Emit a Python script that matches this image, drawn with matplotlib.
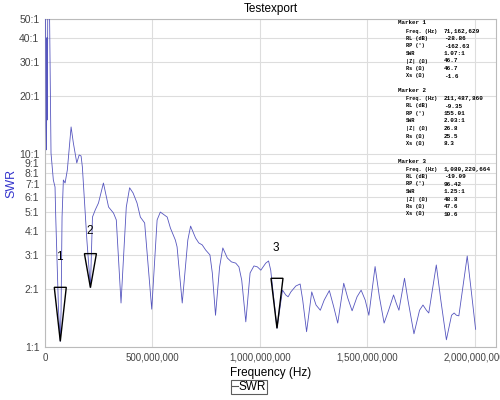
import matplotlib
matplotlib.use("Agg")
import matplotlib.pyplot as plt
from matplotlib.patches import Polygon
from matplotlib.lines import Line2D
from matplotlib import transforms
import numpy as np

# ---- data (frequency in MHz, SWR) ----
freq_mhz = [2, 5, 7, 9, 11, 13, 20, 28, 38.8, 46.7, 50, 56, 63, 71.16, 74.8, 79.4, 85.5,
            93.5, 104, 121.5, 132, 148, 159, 168, 174, 195, 211.49, 221, 234, 249, 272,
            296, 319, 332, 354, 378.5, 394, 410, 428.5, 444, 464, 497, 522, 537, 569,
            584, 607, 615, 639, 665, 678, 701, 716, 732, 748, 768, 779, 794, 813, 828,
            849, 868, 888, 903, 916, 935, 955, 973, 989, 1005, 1028, 1041, 1051, 1080.22,
            1106, 1121, 1132, 1145, 1168, 1188, 1200, 1218, 1242, 1262, 1282, 1300, 1324,
            1344, 1363, 1391, 1410, 1430, 1453, 1472, 1491, 1508, 1537, 1557, 1579, 1600,
            1623, 1636, 1648, 1674, 1690, 1718, 1744, 1760, 1776, 1787, 1822, 1843, 1869,
            1893, 1905, 1916, 1927, 1966, 1986, 2005]
swr = [70, 14, 10.5, 40, 15, 70, 70, 10.1, 7.33, 6.74, 4.71, 2.82, 1.55, 1.07, 1.55, 4.71,
       7.33, 7.07, 8.26, 13.8, 11.4, 8.98, 9.88, 9.76, 8.56, 3.58, 2.03, 4.71, 5.13, 5.57,
       7.07, 5.31, 4.94, 4.55, 1.69, 5.31, 6.68, 6.28, 5.57, 4.71, 4.39, 1.57, 4.55, 5.0,
       4.71, 4.13, 3.58, 3.30, 1.69, 3.58, 4.23, 3.67, 3.46, 3.38, 3.18, 3.0, 2.42, 1.46,
       2.6, 3.26, 2.89, 2.76, 2.72, 2.6, 2.22, 1.35, 2.42, 2.63, 2.6, 2.5, 2.72, 2.79, 2.5,
       1.25, 1.97, 1.86, 1.82, 1.93, 2.07, 2.12, 1.75, 1.2, 1.93, 1.65, 1.55, 1.75, 1.96,
       1.62, 1.33, 2.14, 1.79, 1.54, 1.82, 1.97, 1.75, 1.46, 2.61, 1.82, 1.33, 1.55, 1.86,
       1.68, 1.55, 2.27, 1.75, 1.17, 1.55, 1.65, 1.55, 1.5, 2.66, 1.75, 1.09, 1.46, 1.5,
       1.46, 1.45, 2.96, 1.9, 1.235]

marker_names = ["1", "2", "3"]
marker_freq_hz = [71162629, 211487860, 1080220664]
marker_swr = [1.07, 2.03, 1.25]

y_ticks = [1, 2, 3, 4, 5, 6, 7, 8, 9, 10, 20, 30, 40, 50]
x_ticks = [0, 500000000, 1000000000, 1500000000, 2000000000]

marker_labels = ["Freq. (Hz)", "RL (dB)", "RP (°)", "SWR", "|Z| (Ω)", "Rs (Ω)", "Xs (Ω)"]
marker1_values = ["71,162,629", "-28.86", "-162.63", "1.07:1", "46.7", "46.7", "-1.6"]
marker2_values = ["211,487,860", "-9.35", "155.01", "2.03:1", "26.8", "25.5", "8.3"]
marker3_values = ["1,080,220,664", "-19.09", "96.42", "1.25:1", "48.8", "47.6", "10.6"]

# ---- figure ----
plt.rcParams['font.family'] = ['Liberation Sans', 'DejaVu Sans']
fig = plt.figure(figsize=(5, 4), dpi=100)
ax = fig.add_axes([45/500, 1 - 347/400, (496 - 45)/500, (347 - 19)/400])

freq_hz = np.array(freq_mhz) * 1e6
ax.plot(freq_hz, swr, color='#5656bf', lw=0.6, zorder=3)

ax.set_yscale('log')
ax.set_ylim(1, 50)
ax.set_xlim(0, 2.1e9)
ax.set_yticks(y_ticks)
ax.set_yticklabels([f"{t}:1" for t in y_ticks])
ax.yaxis.set_minor_locator(matplotlib.ticker.NullLocator())
ax.set_xticks(x_ticks)
ax.set_xticklabels([f"{t:,}" for t in x_ticks])
ax.tick_params(axis='x', length=0, labelsize=7, labelcolor='#444444', pad=4)
ax.tick_params(axis='y', length=0, labelsize=7.5, labelcolor='#444444', pad=4)
ax.grid(True, color='#dddddd', lw=0.8, zorder=0)
for s in ax.spines.values():
    s.set_color('#bbbbbb')
    s.set_linewidth(0.8)

ax.set_title("Testexport", fontsize=8.5, pad=5)
ax.set_xlabel("Frequency (Hz)", fontsize=8.5, labelpad=3)
ax.set_ylabel("SWR", fontsize=9, color='#3333cc', labelpad=1.5)

# ---- marker triangles ----
tri_heights = [54, 34, 50]  # pixels
label_offsets = [30, 23, 30]
half_w = 6
for name, f, s, h, lo in zip(marker_names, marker_freq_hz, marker_swr, tri_heights, label_offsets):
    tr = transforms.Affine2D() + transforms.ScaledTranslation(f, s, ax.transData)
    poly = Polygon([(0, 0), (-half_w, h), (half_w, h)], closed=True, fill=False,
                   edgecolor='black', lw=1.0, transform=tr, zorder=4)
    ax.add_patch(poly)
    ax.annotate(name, xy=(f, s), xytext=(-1, h + lo), textcoords='offset pixels',
                ha='center', va='center', fontsize=8.5, color='black', zorder=5)

# ---- marker info text ----
def block(title, values, y0):
    fig.text(398/500, 1 - y0/400, title, family='Liberation Mono', fontsize=4.2,
             fontweight='bold', va='center', ha='left')
    for i, (lab, val) in enumerate(zip(marker_labels, values)):
        yy = y0 + 8 + i * 7.5
        fig.text(406/500, 1 - yy/400, lab, family=['Liberation Mono', 'DejaVu Sans Mono'],
                 fontsize=3.8, fontweight='bold', va='center', ha='left')
        fig.text(444/500, 1 - yy/400, val, family='Liberation Mono', fontsize=4.3,
                 fontweight='bold', va='center', ha='left')

block("Marker 1", marker1_values, 23)
block("Marker 2", marker2_values, 90.5)
block("Marker 3", marker3_values, 161)

# ---- legend ----
leg = fig.legend(handles=[Line2D([0], [0], color='#555555', lw=0.8)], labels=["SWR"],
                 loc='center', bbox_to_anchor=(249/500, 1 - 387/400), fontsize=8.5,
                 frameon=True, fancybox=False, handlelength=0.5, handletextpad=0.1,
                 borderpad=0.05, borderaxespad=0)
leg.get_frame().set_edgecolor('#333333')
leg.get_frame().set_linewidth(0.8)

fig.savefig("out.png", dpi=100)
